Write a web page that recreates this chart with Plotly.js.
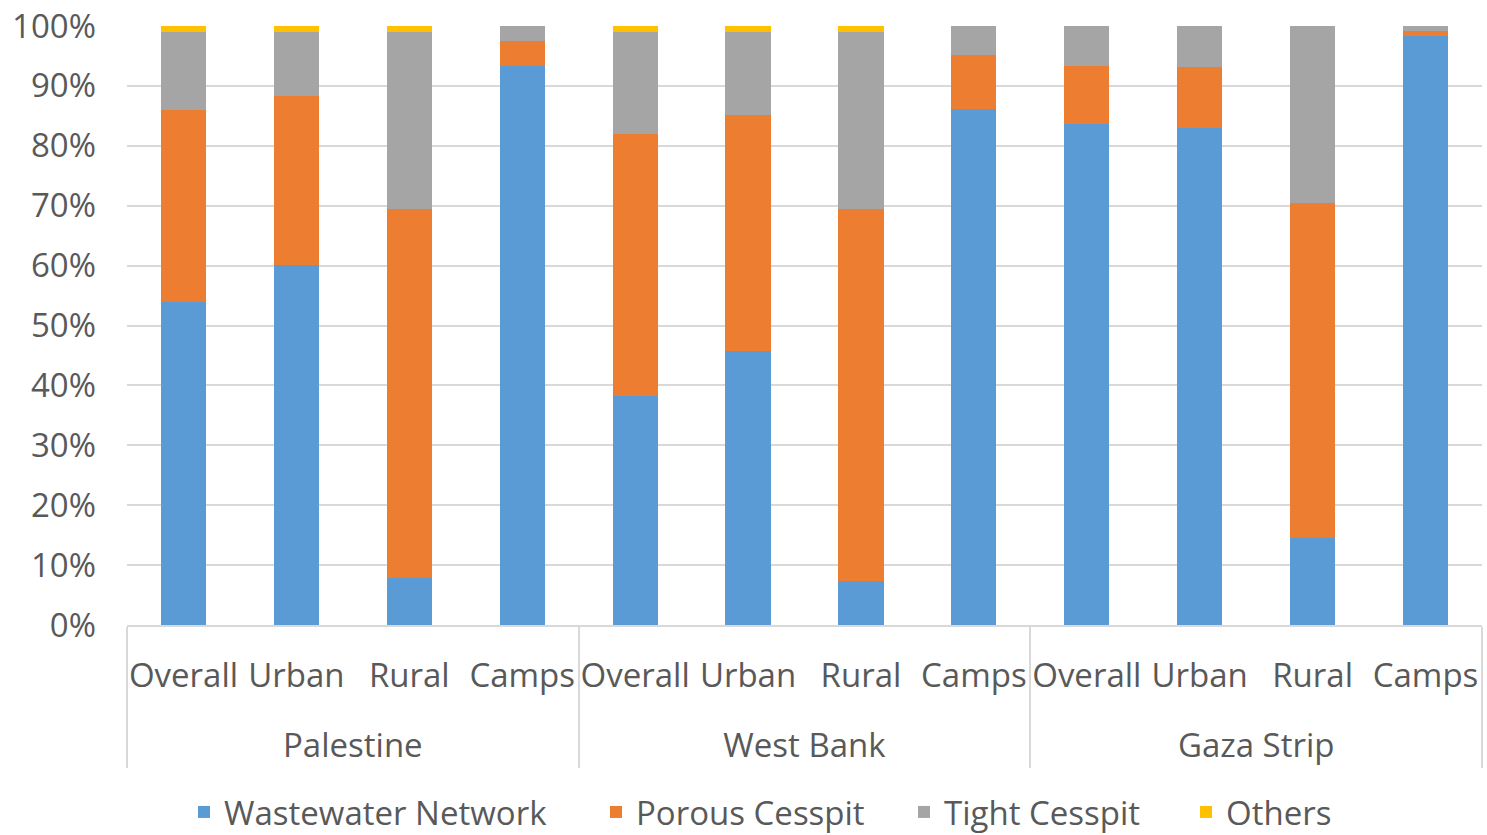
<!DOCTYPE html>
<html>
<head>
<meta charset="utf-8">
<script src="https://cdn.plot.ly/plotly-3.0.1.min.js"></script>
<style>html,body{margin:0;padding:0;background:#fff;}#chart{width:1487px;height:835px;}</style>
</head>
<body>
<div id="chart"></div>
<script>
const regions = ["Palestine","Palestine","Palestine","Palestine","West Bank","West Bank","West Bank","West Bank","Gaza Strip","Gaza Strip","Gaza Strip","Gaza Strip"];
const areas = ["Overall","Urban","Rural","Camps","Overall","Urban","Rural","Camps","Overall","Urban","Rural","Camps"];
const wastewaterNetwork = [54.0, 60.1, 7.9, 93.3, 38.3, 45.8, 7.4, 86.2, 83.7, 82.9, 14.6, 98.3];
const porousCesspit     = [31.9, 28.2, 61.6, 4.2, 43.6, 39.4, 62.1, 8.9, 9.7, 10.2, 55.9, 0.9];
const tightCesspit      = [13.1, 10.7, 29.5, 2.5, 17.1, 13.8, 29.5, 4.9, 6.6, 6.9, 29.5, 0.8];
const others            = [1.0, 1.0, 1.0, 0.0, 1.0, 1.0, 1.0, 0.0, 0.0, 0.0, 0.0, 0.0];
const seriesNames = ["Wastewater Network","Porous Cesspit","Tight Cesspit","Others"];
const yTickVals = [0,10,20,30,40,50,60,70,80,90,100];
const yTickText = ["0%","10%","20%","30%","40%","50%","60%","70%","80%","90%","100%"];

// group labels are pushed one line lower (as in the reference) with a leading line break
const x = [regions.map(r => "<br>" + r), areas];
const font = "'Open Sans', 'Liberation Sans', sans-serif";
const FS = 33;
const colors = ["#5B9BD5","#ED7D31","#A5A5A5","#FFC000"];
const vals = [wastewaterNetwork, porousCesspit, tightCesspit, others];
const legendIds = ["legend","legend2","legend3","legend4"];
const data = vals.map((v,i) => ({
  type:'bar', name:seriesNames[i], x:x, y:v, legend:legendIds[i],
  marker:{color:colors[i], line:{width:0}}, hoverinfo:'y+name'
}));
const legendX = [184, 596, 904, 1186];
const legendCommon = (px) => ({orientation:'h', xref:'container', yref:'container', x:px/1487, xanchor:'left',
  y:(835-812)/835, yanchor:'middle', font:{size:FS, color:'#595959'}, bgcolor:'rgba(0,0,0,0)'});
const layout = {
  width:1487, height:835,
  margin:{l:127, r:5, t:26, b:210, autoexpand:false},
  barmode:'stack', bargap:0.6,
  paper_bgcolor:'#fff', plot_bgcolor:'#fff',
  font:{family:font, size:FS, color:'#595959'},
  xaxis:{type:'multicategory', tickfont:{size:FS, color:'#595959'}, tickangle:0, showline:true, linecolor:'#d9d9d9', linewidth:2,
         showdividers:true, dividercolor:'#d9d9d9', dividerwidth:2, ticks:'', ticklabelstandoff:20, automargin:false},
  yaxis:{range:[0,100], tickvals:yTickVals, ticktext:yTickText, showgrid:true, gridcolor:'#d9d9d9', gridwidth:2,
         zeroline:false, tickfont:{size:FS, color:'#595959'}, ticklen:0, ticklabelstandoff:30, automargin:false},
  legend:legendCommon(legendX[0]),
  legend2:legendCommon(legendX[1]),
  legend3:legendCommon(legendX[2]),
  legend4:legendCommon(legendX[3]),
  showlegend:true
};
Plotly.newPlot('chart', data, layout, {displayModeBar:false, staticPlot:true});
</script>
</body>
</html>
